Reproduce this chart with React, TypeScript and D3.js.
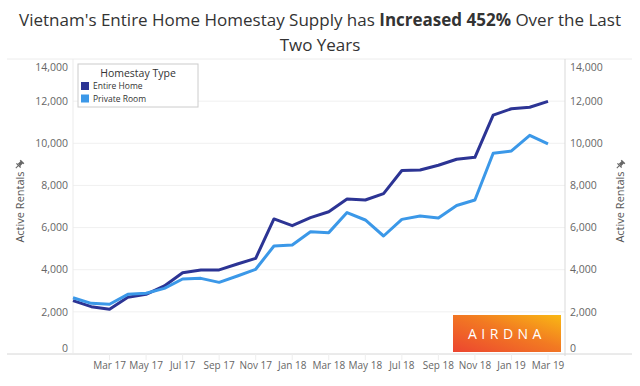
import React from 'react';
import * as d3 from 'd3';

const months = [
  'Jan 17', 'Feb 17', 'Mar 17', 'Apr 17', 'May 17', 'Jun 17', 'Jul 17', 'Aug 17', 'Sep 17',
  'Oct 17', 'Nov 17', 'Dec 17', 'Jan 18', 'Feb 18', 'Mar 18', 'Apr 18', 'May 18', 'Jun 18',
  'Jul 18', 'Aug 18', 'Sep 18', 'Oct 18', 'Nov 18', 'Dec 18', 'Jan 19', 'Feb 19', 'Mar 19',
];
const entireHome = [
  2530, 2245, 2120, 2690, 2830, 3230, 3860, 3990, 3990, 4270, 4540, 6410, 6090, 6470,
  6750, 7355, 7310, 7610, 8710, 8730, 8960, 9240, 9335, 11340, 11640, 11710, 11990,
];
const privateRoom = [
  2670, 2405, 2360, 2830, 2880, 3115, 3560, 3590, 3400, 3700, 4020, 5125, 5170, 5805,
  5760, 6710, 6360, 5600, 6390, 6550, 6450, 7050, 7310, 9525, 9635, 10380, 9970,
];
const tickLabels = [
  'Mar 17', 'May 17', 'Jul 17', 'Sep 17', 'Nov 17', 'Jan 18', 'Mar 18', 'May 18',
  'Jul 18', 'Sep 18', 'Nov 18', 'Jan 19', 'Mar 19',
];
const yTicks = [0, 2000, 4000, 6000, 8000, 10000, 12000, 14000];
const seriesNames = ['Entire Home', 'Private Room'];
const colors = ['#2c3494', '#3b98e8'];

const FONT = '"Open Sans", sans-serif';

const Pin = ({ x, y }: { x: number; y: number }) => (
  <g transform={`translate(${x},${y}) rotate(45)`} fill="#666">
    <rect x={-2.5} y={-5} width={5} height={1.4} />
    <rect x={-1.6} y={-4} width={3.2} height={4} />
    <rect x={-3} y={0} width={6} height={1.2} />
    <rect x={-0.5} y={1} width={1} height={3.5} />
  </g>
);

export default function App() {
  const width = 640;
  const height = 386;
  const left = 73;
  const right = 565;
  const top = 59;
  const bottom = 354;

  const x = d3.scalePoint<string>().domain(months).range([left, 548]);
  const y = d3.scaleLinear().domain([0, 14000]).range([bottom, top]);
  const fmt = d3.format(',');

  const line = d3
    .line<number>()
    .x((_, i) => x(months[i]) as number)
    .y((d) => y(d));

  const labelY = (v: number) => {
    if (v === 14000) return y(v) + 8;
    if (v === 0) return y(v) - 6;
    return y(v);
  };

  return (
    <svg width={width} height={height} style={{ position: 'absolute', left: 0, top: 0 }} fontFamily={FONT}>
      <defs>
        <linearGradient id="airdna" x1="0%" y1="100%" x2="100%" y2="0%">
          <stop offset="0%" stopColor="#ec4530" />
          <stop offset="55%" stopColor="#f27a22" />
          <stop offset="100%" stopColor="#f9b814" />
        </linearGradient>
      </defs>
      <rect width={width} height={height} fill="#fff" />

      {/* title */}
      <text x={320} y={26} textAnchor="middle" fontSize={17} fill="#333">
        Vietnam's Entire Home Homestay Supply has <tspan fontWeight="bold">Increased 452%</tspan> Over the Last
      </text>
      <text x={320} y={51} textAnchor="middle" fontSize={17} fill="#333">
        Two Years
      </text>

      {/* grid */}
      {yTicks.slice(1, -1).map((t) => (
        <line key={t} x1={left} x2={right} y1={y(t)} y2={y(t)} stroke="#f0f0f0" strokeWidth={1} />
      ))}
      <line x1={7} x2={632} y1={top} y2={top} stroke="#ececec" />
      <line x1={7} x2={632} y1={bottom} y2={bottom} stroke="#d6d6d6" />
      <line x1={left} x2={left} y1={top} y2={bottom} stroke="#ebebeb" />
      <line x1={right} x2={right} y1={top} y2={bottom + 2} stroke="#d9d9d9" />

      {/* y labels */}
      {yTicks.map((t) => (
        <g key={t} fontSize={10.5} fill="#666">
          <text x={68} y={labelY(t)} dy="0.35em" textAnchor="end">{fmt(t)}</text>
          <text x={570} y={labelY(t)} dy="0.35em" textAnchor="start">{fmt(t)}</text>
        </g>
      ))}

      {/* axis titles */}
      <text transform="translate(20,207) rotate(-90)" textAnchor="middle" dy="0.35em" fontSize={11} fill="#555">
        Active Rentals
      </text>
      <Pin x={19} y={165} />
      <text transform="translate(620,207) rotate(-90)" textAnchor="middle" dy="0.35em" fontSize={11} fill="#555">
        Active Rentals
      </text>
      <Pin x={620} y={165} />

      {/* x ticks */}
      {tickLabels.map((m) => (
        <g key={m}>
          <line x1={x(m)} x2={x(m)} y1={bottom} y2={bottom + 6} stroke="#eeeeee" />
          <text x={x(m)} y={369} textAnchor="middle" fontSize={10} fill="#666">{m}</text>
        </g>
      ))}

      {/* logo */}
      <rect x={453} y={315} width={108} height={37} fill="url(#airdna)" />
      <text x={507} y={339} textAnchor="middle" fontSize={14} fontWeight={400} fill="#fff" letterSpacing={4.5}>
        AIRDNA
      </text>

      {/* lines */}
      {[entireHome, privateRoom].map((s, i) => (
        <path key={i} d={line(s) as string} fill="none" stroke={colors[i]} strokeWidth={3} strokeLinejoin="round" />
      ))}

      {/* legend */}
      <g>
        <rect x={78} y={64} width={120} height={43} fill="#fff" stroke="#ccc" />
        <text x={138} y={77} textAnchor="middle" fontSize={10.5} fill="#333">Homestay Type</text>
        {seriesNames.map((n, i) => (
          <g key={n}>
            <rect x={81} y={82 + i * 12.5} width={8} height={8} fill={colors[i]} />
            <text x={93} y={89 + i * 12.5} fontSize={8.5} fill="#333">{n}</text>
          </g>
        ))}
      </g>
    </svg>
  );
}
